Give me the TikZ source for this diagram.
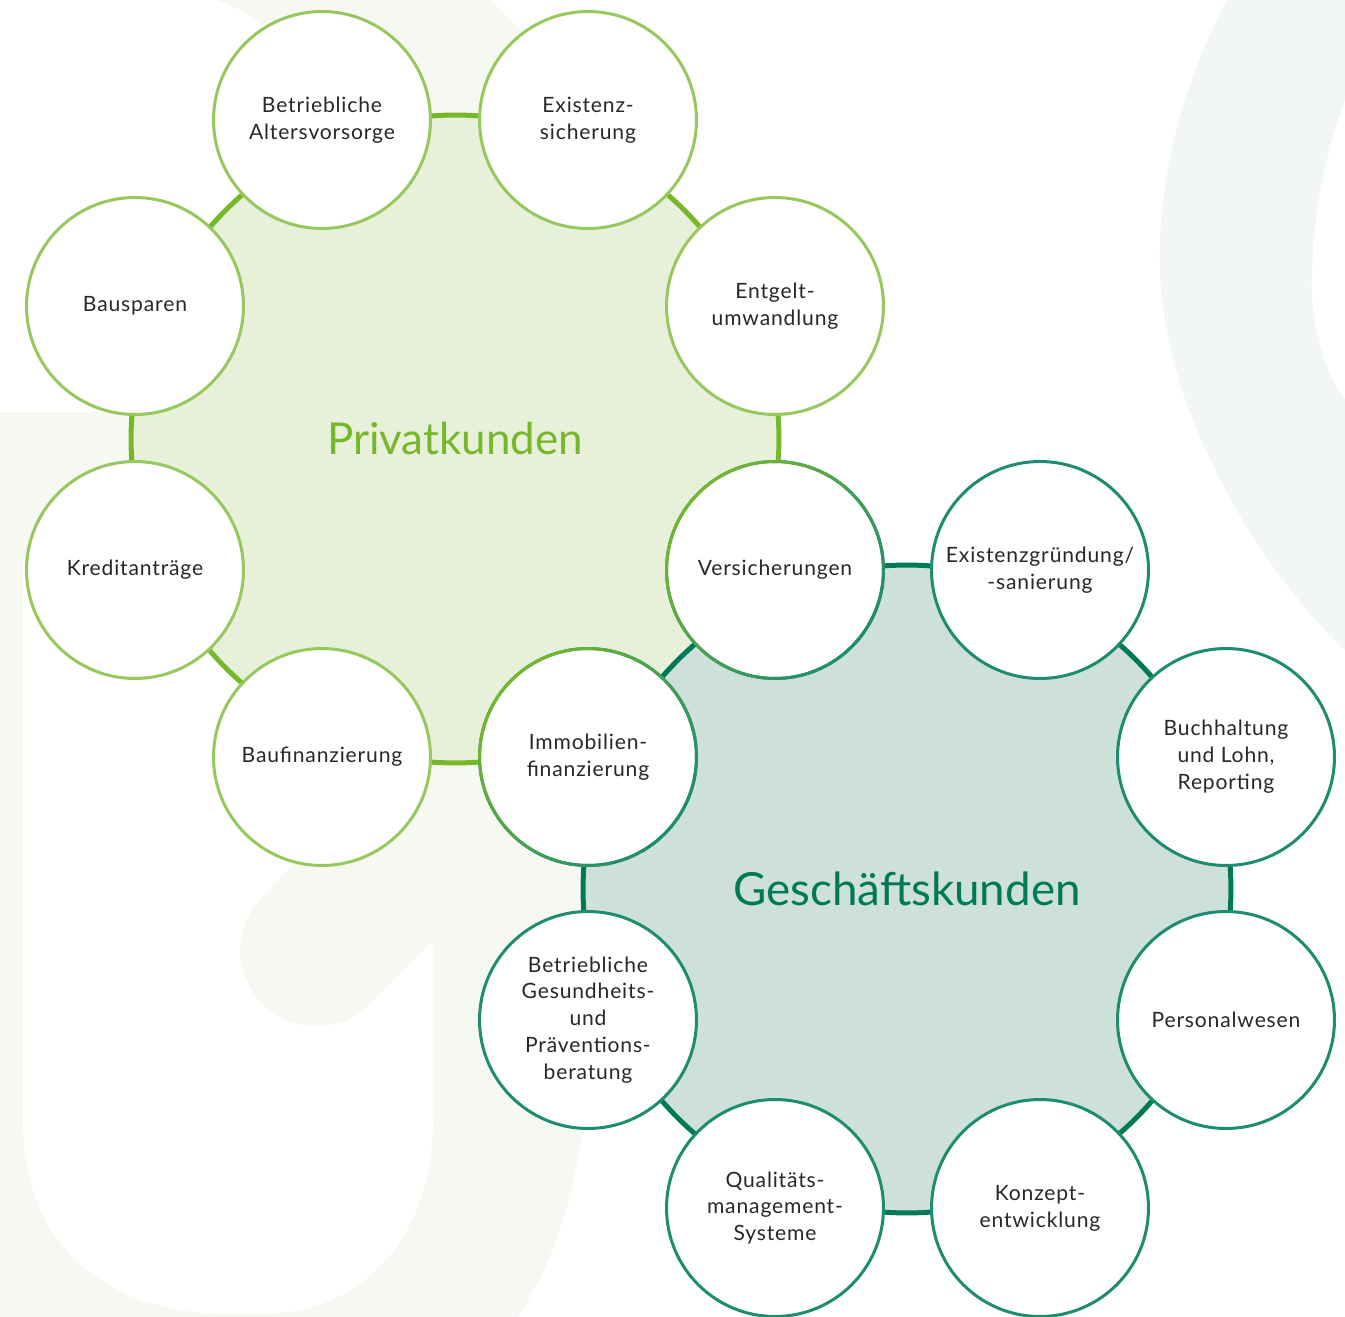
\documentclass[tikz,border=0pt]{standalone}
\usepackage{fontspec}
\setmainfont{Lato}
\usepackage{tikz}

\definecolor{pgruen}{HTML}{76B82A}
\definecolor{pzart}{HTML}{E7F1DA}
\definecolor{prand}{HTML}{96C85E}
\definecolor{ggruen}{HTML}{007A56}
\definecolor{gzart}{HTML}{CDE0D9}
\definecolor{grand}{HTML}{1E8C70}
\definecolor{schrift}{HTML}{282828}
\definecolor{hgA}{HTML}{F6F9F1}
\definecolor{hgB}{HTML}{F2F6F4}

\tikzset{
	kreis/.style={circle, inner sep=0pt, outer sep=0pt, align=center},
	gross/.style={kreis, minimum size=12.96cm, line width=0.1cm, font=\fontsize{25}{30}\selectfont},
	blase/.style={kreis, minimum size=4.34cm, line width=0.06cm, fill=white, text=schrift,
		font=\addfontfeature{LetterSpace=4}\fontsize{12}{15.3}\selectfont},
	pblase/.style={blase, draw=prand},
	gblase/.style={blase, draw=grand}
}

\begin{document}
\begin{tikzpicture}[x=0.02cm, y=-0.02cm]
		\useasboundingbox (0,0) rectangle (1345,1317);
		% Hintergrund
		\fill[white] (0,0) rectangle (1345,1317);
		\fill[hgA] (0,412) -- (420,412) -- (560,560) -- (590,870) -- (585,1110) .. controls (575,1200) and (550,1270) .. (517,1317) -- (0,1317) -- cycle;
		\fill[white] (23,560) -- (23,1120) .. controls (23,1250) and (110,1314) .. (230,1314) -- (260,1314) .. controls (370,1314) and (433,1230) .. (433,1120) -- (433,941) -- (370,1004) arc[start angle=-45, end angle=-225, radius=1.52cm] -- (412,746) -- (300,640) -- (130,540) -- cycle;
		\fill[hgA] (217,0) .. controls (250,10) and (300,45) .. (380,130) -- (500,200) -- (600,150) -- (527,37) -- (491,0) -- cycle;
		\fill[hgB] (1227,0) .. controls (1180,90) and (1158,180) .. (1160,268) .. controls (1162,400) and (1250,560) .. (1345,650) -- (1345,400) .. controls (1315,360) and (1310,300) .. (1312,270) .. controls (1314,200) and (1330,140) .. (1345,100) -- (1345,0) -- cycle;

		% die beiden Kundengruppen
		\node[gross, fill=pzart, draw=pgruen, text=pgruen] (privat) at (455,439) {Privatkunden};
		\node[gross, fill=gzart, draw=ggruen, text=ggruen, font=\fontsize{26}{30}\selectfont] (geschaeft) at (907,889) {Geschäftskunden};

		% Privatkunden
		\node[pblase] (alters) at (322,120) {Betriebliche\\Altersvorsorge};
		\node[pblase] (existenz) at (588,120) {Existenz-\\sicherung};
		\node[pblase] (entgelt) at (775,306) {Entgelt-\\umwandlung};
		\node[pblase] (bauspar) at (135,306) {Bausparen};
		\node[pblase] (kredit) at (135,570) {Kreditanträge};
		\node[pblase] (baufin) at (322,757) {Baufinanzierung};

		% gemeinsame
		\node[gblase] (vers) at (775,570) {Versicherungen};
		\node[gblase] (immo) at (588,757) {Immobilien-\\finanzierung};
		\foreach \n in {vers,immo}
			\foreach \a in {0,10,...,350}{
				\pgfmathsetmacro\m{50+50*cos(\a-135)}
				\draw[line width=0.06cm, pgruen!\m!grand] (\n.\a) arc[start angle=\a, delta angle=11, radius=2.17cm];
			}

		% Geschäftskunden
		\node[gblase] (gruendung) at (1040,570) {Existenzgründung/\\-sanierung};
		\node[gblase] (buchhaltung) at (1226,757) {Buchhaltung\\und Lohn,\\Reporting};
		\node[gblase] (personal) at (1226,1020) {Personalwesen};
		\node[gblase] (konzept) at (1040,1208) {Konzept-\\entwicklung};
		\node[gblase] (qualitaet) at (775,1208) {Qualitäts-\\management-\\Systeme};
		\node[gblase] (gesundheit) at (588,1020) {Betriebliche\\Gesundheits-\\und\\Präventions-\\beratung};
	\end{tikzpicture}
\end{document}
